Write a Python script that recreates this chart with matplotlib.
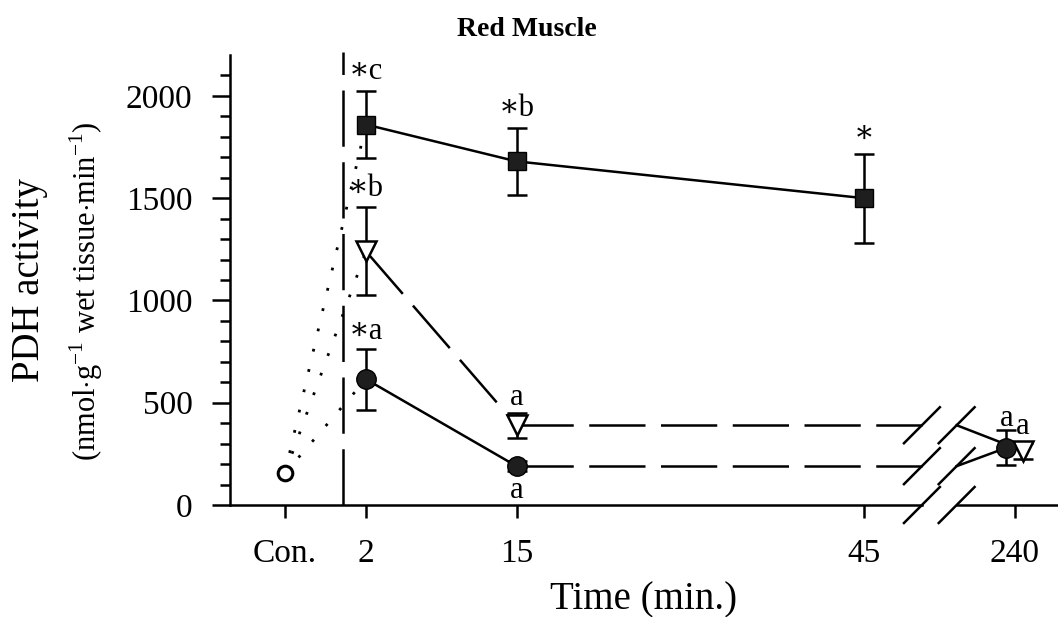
import matplotlib
matplotlib.use("Agg")
import matplotlib.pyplot as plt
from matplotlib.ticker import FixedLocator

plt.rcParams['font.family'] = ['Liberation Serif', 'DejaVu Serif', 'DejaVu Sans']
plt.rcParams['mathtext.fontset'] = 'custom'
plt.rcParams['mathtext.rm'] = 'Liberation Serif'

# time points (min) and PDH activity, mean +/- SE
tick_labels = ["Con.", "2", "15", "45", "240"]
tick_times = [2, 15, 45, 240]

control_mean = 155

sq_times = [2, 15, 45]
sq_mean = [1860, 1680, 1500]
sq_err = [165, 162, 218]
sq_marks = ["\u2217c", "\u2217b", "\u2217"]

tri_times = [2, 15, 240]
tri_mean = [1240, 390, 265]
tri_err = [215, 62, 40]
tri_marks = ["\u2217b", "a", "a"]

cir_times = [2, 15, 240]
cir_mean = [615, 190, 280]
cir_err = [150, 25, 85]
cir_marks = ["\u2217a", "a", "a"]

# broken time axis: 240 min is drawn past the break
CON_POS = -5
LATE_POS = 58
BREAK_LO, BREAK_HI = 50.0, 53.0
XMIN, XMAX = -9.74, 61.75


def xpos(t, shift=0.0):
    return (t if t <= 45 else LATE_POS + shift)


fig = plt.figure(figsize=(10.58, 6.17), dpi=100)
ax = fig.add_axes([230/1058, 1 - 505/617, 828/1058, 450/617])
ax.set_xlim(XMIN, XMAX)
ax.set_ylim(0, 2200)

lw = 1.8
DASH = (0, (22.5, 6.2))
DOTS = (0, (1, 6.5))

# treatment time (t = 0)
ax.plot([0, 0], [0, 2215], color='black', lw=lw, ls=DASH, clip_on=False, zorder=1)

# control -> 2 min, dotted
for m in (sq_mean[0], tri_mean[0], cir_mean[0]):
    ax.plot([CON_POS, 2], [control_mean, m], color='black', lw=2.0, ls=DOTS, zorder=1)

ebar = dict(ecolor='black', elinewidth=lw, capsize=7, capthick=lw)

# squares: solid
ax.plot([xpos(t) for t in sq_times], sq_mean, color='black', lw=lw, zorder=2)
ax.errorbar([xpos(t) for t in sq_times], sq_mean, yerr=sq_err, fmt='s', ms=12.5,
            mfc='#1e1e1e', mec='black', zorder=3, **ebar)

# triangles: dashed 2 -> 15 -> break, solid after break
tri_x = [xpos(t, 0.7) for t in tri_times]
ax.plot(tri_x[:2], tri_mean[:2], color='black', lw=lw, ls=DASH, zorder=2)
ax.plot([tri_x[1], BREAK_LO], [tri_mean[1], tri_mean[1]], color='black', lw=lw, ls=DASH, zorder=2)
ax.plot([BREAK_HI, tri_x[2]], [tri_mean[1], tri_mean[2]], color='black', lw=lw, zorder=2)
ax.errorbar(tri_x, tri_mean, yerr=tri_err, fmt='v', ms=14, mfc='white', mec='black',
            mew=1.8, zorder=3, **ebar)

# circles: solid 2 -> 15, dashed to break, solid after break
cir_x = [xpos(t, -0.7) for t in cir_times]
ax.plot(cir_x[:2], cir_mean[:2], color='black', lw=lw, zorder=2)
ax.plot([cir_x[1], BREAK_LO], [cir_mean[1], cir_mean[1]], color='black', lw=lw, ls=DASH, zorder=2)
ax.plot([BREAK_HI, cir_x[2]], [cir_mean[1], cir_mean[2]], color='black', lw=lw, zorder=2)
ax.errorbar(cir_x, cir_mean, yerr=cir_err, fmt='o', ms=14, mfc='#1e1e1e', mec='black',
            zorder=4, **ebar)

# control
ax.plot([CON_POS], [control_mean], 'o', ms=10.5, mfc='white', mec='black', mew=2.2, zorder=4)


# significance marks
def mark(x, y, s):
    ax.text(x, y, s, ha='center', va='center', fontsize=22)


for x, m, e, s in zip([xpos(t) for t in sq_times], sq_mean, sq_err, sq_marks):
    mark(x, m + e + 95, s)
mark(tri_x[0], tri_mean[0] + tri_err[0] + 90, tri_marks[0])
mark(tri_x[1], tri_mean[1] + tri_err[1] + 75, tri_marks[1])
mark(tri_x[2], tri_mean[2] + tri_err[2] + 80, tri_marks[2])
mark(cir_x[0], cir_mean[0] + cir_err[0] + 85, cir_marks[0])
mark(cir_x[1], cir_mean[1] - 120, cir_marks[1])
mark(cir_x[2], cir_mean[2] + cir_err[2] + 60, cir_marks[2])

# break marks on the two series lines and the x axis
sx, sy = 1.55, 88
for yb in (tri_mean[1], cir_mean[1], 0):
    for xb in (BREAK_LO, BREAK_HI):
        ax.plot([xb - sx, xb + sx], [yb - sy, yb + sy], color='black', lw=lw,
                clip_on=False, zorder=5)

# x axis drawn in two pieces around the break
ax.spines['bottom'].set_visible(False)
ax.plot([XMIN, BREAK_LO], [0, 0], color='black', lw=lw, clip_on=False, zorder=5)
ax.plot([BREAK_HI, XMAX], [0, 0], color='black', lw=lw, clip_on=False, zorder=5)
ax.spines['top'].set_visible(False)
ax.spines['right'].set_visible(False)
ax.spines['left'].set_linewidth(lw)

ax.set_xticks([CON_POS] + [xpos(t) for t in tick_times])
ax.set_xticklabels(tick_labels)
ax.tick_params(axis='x', length=9, width=lw, pad=15, labelsize=24, direction='out')

ax.set_yticks([0, 500, 1000, 1500, 2000])
ax.yaxis.set_minor_locator(FixedLocator([v for v in range(100, 2200, 100) if v % 500]))
ax.tick_params(axis='y', which='major', length=13, width=lw, pad=14, labelsize=24)
ax.tick_params(axis='y', which='minor', length=7, width=lw)

ax.set_xlabel("Time (min.)", fontsize=28, labelpad=9)
fig.text(30/1058, 1 - 280/617, "PDH activity", rotation=90, fontsize=28,
         ha='center', va='center')
fig.text(86/1058, 1 - 291/617, r"(nmol$\cdot$g$^{\mathregular{-1}}$ wet tissue$\cdot$min$^{\mathregular{-1}}$)",
         rotation=90, fontsize=22, ha='center', va='center')
fig.text(527/1058, 1 - 30/617, "Red Muscle", fontsize=20, fontweight='bold',
         ha='center', va='center')

fig.savefig("out.png", dpi=100)
